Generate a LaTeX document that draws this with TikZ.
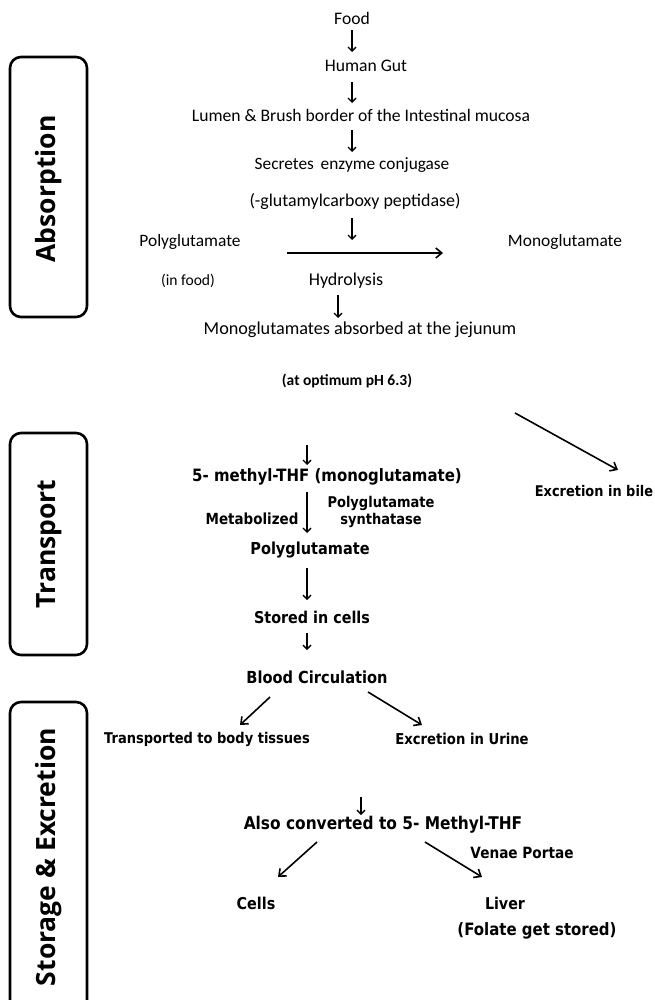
\documentclass[tikz,border=0pt]{standalone}
\usepackage{fontspec}
\setmainfont{Carlito}
\newfontfamily\tah{DejaVu Sans}[FakeStretch=0.88]
\newfontfamily\osans{Open Sans}
\usetikzlibrary{arrows.meta,calc}
\newcommand\fz[1]{\fontsize{#1}{#1}\selectfont}
\tikzset{
  t/.style={inner sep=0pt,anchor=center},
  cal/.style={t,font=\fz{#1}},
  tb/.style={t,font=\tah\bfseries\fz{#1}},
  varr/.style={line width=1.3pt,-{Straight Barb[length=4pt,width=8pt,line width=1.3pt]}},
  darr/.style={line width=1.6pt,-{Straight Barb[length=6pt,width=10pt,line width=1.6pt]}},
  phase/.style={draw,line width=2.6pt,rounded corners=11pt},
  plabel/.style={t,rotate=90,font=\osans\bfseries\fz{26.5}}
}
\begin{document}
\begin{tikzpicture}[x=1pt,y=-1pt]
\clip (0,0) rectangle (655,1000);
\fill[white] (0,0) rectangle (655,1000);
% phase boxes
\draw[phase] (10,57) rectangle (87,317);
\node[plabel] (labs) at (49,189) {Absorption};
\draw[phase] (10,433) rectangle (87,655);
\node[plabel] (ltra) at (49,544) {Transport};
\draw[phase] (10,702) rectangle (87,1015);
\node[plabel] (lsto) at (49,857) {Storage \& Excretion};
% absorption
\node[cal=17.6] (food) at (352,18) {Food};
\node[cal=17.6] (gut) at (366,66) {Human Gut};
\node[cal=17.6] (lumen) at (361,115) {Lumen \& Brush border of the Intestinal mucosa};
\node[cal=17.3] (secr) at (352,165) {Secretes\, enzyme conjugase};
\node[cal=17.9] (pept) at (355,201) {(-glutamylcarboxy peptidase)};
\node[cal=17.4] (polyA) at (190,242) {Polyglutamate};
\node[cal=17.4] (monoA) at (565,242) {Monoglutamate};
\node[cal=15.6] (infood) at (188,281) {(in food)};
\node[cal=18] (hydro) at (346,281) {Hydrolysis};
\node[cal=18.2] (absorbed) at (360,330) {Monoglutamates absorbed at the jejunum};
\node[t,font=\bfseries\fz{15.5}] (optimum) at (347,381) {(at optimum pH 6.3)};
\draw[varr] ($(food)+(0,12)$) -- ($(gut)+(-14,-14)$);
\draw[varr] ($(gut)+(-14,16)$) -- ($(lumen)+(-9,-12)$);
\draw[varr] ($(lumen)+(-9,15)$) -- ($(secr)+(0,-13)$);
\draw[varr] ($(pept)+(-3,17)$) -- ($(pept)+(-3,39)$);
\draw[darr] ($(polyA)+(97,11)$) -- ($(monoA)+(-122,11)$);
\draw[varr] ($(hydro)+(-8,14)$) -- ($(absorbed)+(-22,-12)$);
% transport
\node[tb=17] (meth) at (327,477) {5- methyl-THF (monoglutamate)};
\node[tb=14.7] (bile) at (594,491) {Excretion in bile};
\node[tb=15.3] (metab) at (252,519) {Metabolized};
\node[tb=14.8,align=center] (synth) at (381,512) {Polyglutamate\\[3pt]synthatase};
\node[tb=16.5] (polyB) at (310,550) {Polyglutamate};
\node[tb=16.3] (stored) at (312,617) {Stored in cells};
\coordinate (bilestart) at (515,413);
\draw[darr] (bilestart) -- ($(bile)+(24,-21)$);
\draw[varr] ($(meth)+(-20,-32)$) -- ($(meth)+(-20,-12)$);
\draw[varr] ($(meth)+(-20,15)$) -- ($(polyB)+(-3,-17)$);
\draw[varr] ($(polyB)+(-3,18)$) -- ($(stored)+(-5,-17)$);
% storage
\node[tb=16.6] (blood) at (317,677) {Blood Circulation};
\node[tb=14.8] (tissues) at (207,739) {Transported to body tissues};
\node[tb=15] (urine) at (462,739) {Excretion in Urine};
\node[tb=17.5] (also) at (383,825) {Also converted to 5- Methyl-THF};
\node[tb=15.5] (venae) at (522,853) {Venae Portae};
\node[tb=16.3] (cells) at (256,903) {Cells};
\node[tb=16.2] (liver) at (505,903) {Liver};
\node[tb=17] (folate) at (537,931) {(Folate get stored)};
\draw[varr] ($(stored)+(-5,16)$) -- ($(blood)+(-10,-27)$);
\draw[darr] ($(blood)+(-47,20)$) -- ($(tissues)+(33,-14)$);
\draw[darr] ($(blood)+(51,15)$) -- ($(urine)+(-40,-14)$);
\draw[varr] ($(also)+(-22,-28)$) -- ($(also)+(-22,-10)$);
\draw[darr] ($(also)+(-66,17)$) -- ($(cells)+(22,-26)$);
\draw[darr] ($(also)+(42,17)$) -- ($(liver)+(-23,-26)$);
\end{tikzpicture}
\end{document}
